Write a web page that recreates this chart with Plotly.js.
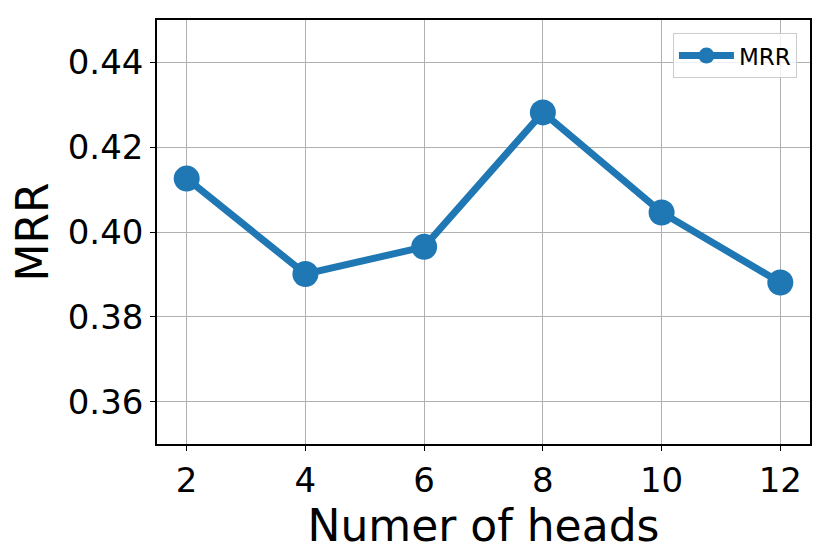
<!DOCTYPE html>
<html>
<head>
<meta charset="utf-8">
<script src="https://cdn.plot.ly/plotly-3.0.1.min.js"></script>
<style>html,body{margin:0;padding:0;background:#fff;}#chart{width:831px;height:558px;}</style>
</head>
<body>
<div id="chart"></div>
<script>
const heads = [2, 4, 6, 8, 10, 12];
const mrr = [0.4126, 0.3901, 0.3965, 0.4282, 0.4046, 0.3881];
const xTicks = [2, 4, 6, 8, 10, 12];
const seriesName = 'MRR';
const xLabel = 'Numer of heads';
const yLabel = 'MRR';

const font = 'DejaVu Sans, sans-serif';
const trace = {
  x: heads, y: mrr, name: seriesName, type: 'scatter', mode: 'lines+markers',
  line: {color: '#1f77b4', width: 7},
  marker: {color: '#1f77b4', size: 26}
};
const layout = {
  width: 831, height: 558,
  margin: {l: 157, r: 21, t: 20, b: 114},
  paper_bgcolor: '#fff', plot_bgcolor: '#fff',
  font: {family: font, color: '#000'},
  showlegend: true,
  legend: {x: 0.98, y: 0.969, xanchor: 'right', yanchor: 'top',
    itemwidth: 55,
    bgcolor: 'rgba(255,255,255,0.8)', bordercolor: '#cccccc', borderwidth: 1,
    font: {family: font, size: 23}},
  xaxis: {
    range: [1.5, 12.5], tickvals: xTicks, ticktext: xTicks.map(String),
    showgrid: true, gridcolor: '#b0b0b0', gridwidth: 1, zeroline: false,
    showline: true, mirror: true, linecolor: '#000', linewidth: 1.5,
    ticks: 'outside', ticklen: 5, tickwidth: 1.2, tickcolor: '#000',
    tickfont: {family: font, size: 34},
    title: {text: xLabel, font: {family: font, size: 44}, standoff: 2}
  },
  yaxis: {
    range: [0.35, 0.45], tick0: 0.36, dtick: 0.02, tickformat: '.2f',
    showgrid: true, gridcolor: '#b0b0b0', gridwidth: 1, zeroline: false,
    showline: true, mirror: true, linecolor: '#000', linewidth: 1.5,
    ticks: 'outside', ticklen: 5, tickwidth: 1.2, tickcolor: '#000',
    tickfont: {family: font, size: 34},
    title: {text: yLabel, font: {family: font, size: 44}, standoff: 5}
  }
};
Plotly.newPlot('chart', [trace], layout, {displayModeBar: false});
</script>
</body>
</html>
